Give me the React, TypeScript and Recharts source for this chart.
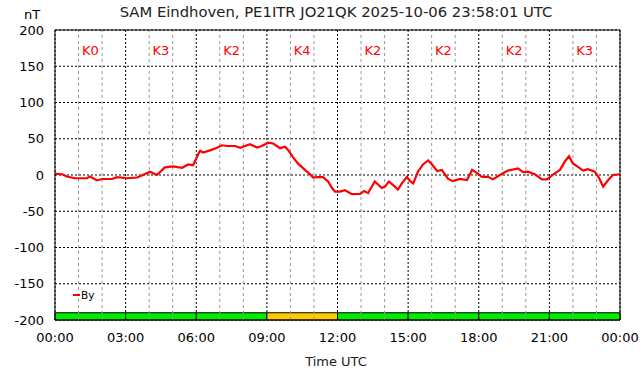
import {
  LineChart,
  Line,
  XAxis,
  YAxis,
  CartesianGrid,
  ReferenceLine,
  ReferenceArea,
  ReferenceDot,
} from 'recharts';

// sample times (UTC) and By values in nT
const times = [
  '00:00', '00:18', '00:30', '00:51', '01:22', '01:29', '01:47', '02:00', '02:25', '02:38',
  '03:04', '03:29', '03:44', '04:02', '04:20', '04:40', '05:01', '05:24', '05:39', '05:52',
  '06:02', '06:07', '06:10', '06:17', '06:35', '06:53', '07:05', '07:19', '07:39', '07:52',
  '08:17', '08:35', '08:47', '09:03', '09:16', '09:34', '09:46', '09:54', '10:06', '10:19',
  '10:37', '10:50', '10:58', '11:08', '11:23', '11:36', '11:46', '11:54', '12:06', '12:19',
  '12:37', '12:58', '13:08', '13:18', '13:35', '13:53', '14:01', '14:11', '14:22', '14:34',
  '14:44', '14:57', '15:05', '15:13', '15:25', '15:38', '15:51', '16:01', '16:14', '16:26',
  '16:42', '16:54', '17:12', '17:30', '17:43', '17:56', '18:08', '18:24', '18:36', '18:54',
  '19:14', '19:40', '19:53', '20:05', '20:23', '20:41', '20:54', '21:10', '21:27', '21:40',
  '21:50', '22:00', '22:12', '22:26', '22:38', '22:56', '23:07', '23:17', '23:30', '23:42',
  '24:00',
];
const byValues = [
  2, 1, -2, -4.5, -4.5, -2, -7.5, -5.5, -5.5, -3,
  -4.5, -3.5, 0, 4.5, 0, 10.5, 12, 10, 14.5, 13.5,
  25, 31, 33.5, 31, 34, 37.5, 41, 40, 40, 37.5,
  42.5, 38, 40, 44.5, 43.5, 37, 39, 34.5, 25, 16,
  7, 1, -3.5, -3, -3, -9, -18, -23, -23, -21,
  -26.5, -26, -22, -25, -9, -18, -16, -9, -14, -20,
  -11.5, -2.5, -8.5, -11.5, 4.5, 14.5, 20, 14.5, 5.5, 7,
  -5.5, -8.5, -5.5, -7, 7, 2.5, -2.5, -2.5, -6, 0,
  6, 9, 4, 4.5, 1, -6, -6, 1, 7, 19,
  26, 16, 11.5, 6, 8, 4.5, -4.5, -16, -7, 0,
  1,
];

// K index per 3-hour block
const kIndex = [0, 3, 2, 4, 2, 2, 2, 3];

const majorHours = [0, 3, 6, 9, 12, 15, 18, 21, 24];
const minorHours = [1, 2, 4, 5, 7, 8, 10, 11, 13, 14, 16, 17, 19, 20, 22, 23];
const yTicks = [-200, -150, -100, -50, 0, 50, 100, 150, 200];

const toMin = (t: string) => {
  const [h, m] = t.split(':').map(Number);
  return h * 60 + m;
};

const data = times.map((t, i) => ({ t: toMin(t), by: byValues[i] }));

const fmtTime = (v: number) => {
  const h = Math.floor(v / 60) % 24;
  const m = v % 60;
  return `${String(h).padStart(2, '0')}:${String(m).padStart(2, '0')}`;
};

const kColor = (k: number) => (k >= 4 ? '#ffcc00' : '#00ee00');

export default function App() {
  return (
    <div
      style={{
        position: 'absolute',
        left: 0,
        top: 0,
        width: 642,
        height: 376,
        background: '#fff',
        fontFamily: '"DejaVu Sans", sans-serif',
      }}
    >
      <div
        style={{
          position: 'absolute',
          top: 3,
          left: 0,
          width: 672,
          textAlign: 'center',
          fontSize: 14.8,
          color: '#222',
        }}
      >
        SAM Eindhoven, PE1ITR JO21QK 2025-10-06 23:58:01 UTC
      </div>
      <div style={{ position: 'absolute', top: 7, left: 24, fontSize: 13, color: '#000' }}>nT</div>
      <div style={{ position: 'absolute', top: 354, left: 0, width: 672, textAlign: 'center', fontSize: 13, color: '#222' }}>
        Time UTC
      </div>
      {/* legend */}
      <div
        style={{
          position: 'absolute',
          left: 73,
          top: 289,
          display: 'flex',
          alignItems: 'center',
          fontSize: 10.5,
          color: '#000',
          zIndex: 2,
        }}
      >
        <span style={{ display: 'inline-block', width: 7, height: 2, background: '#ff0000', marginRight: 1 }} />
        By
      </div>
      <LineChart width={642} height={376} data={data} margin={{ top: 30, right: 22, left: 0, bottom: 0 }}>
        <CartesianGrid stroke="#000" strokeDasharray="2 2" />
        {minorHours.map((h) => (
          <ReferenceLine key={`m${h}`} x={h * 60} stroke="#999" strokeDasharray="3 3" />
        ))}
        <XAxis
          type="number"
          dataKey="t"
          domain={[0, 1440]}
          ticks={majorHours.map((h) => h * 60)}
          tickFormatter={fmtTime}
          interval={0}
          height={56}
          tickLine={false}
          tickMargin={7}
          axisLine={{ stroke: '#000' }}
          tick={{ fontSize: 13, fill: '#000' }}
        />
        <YAxis
          domain={[-200, 200]}
          ticks={yTicks}
          interval={0}
          width={55}
          tickLine={false}
          tickMargin={5}
          axisLine={{ stroke: '#000' }}
          tick={{ fontSize: 13, fill: '#000' }}
        />
        <ReferenceLine y={200} stroke="#000" />
        <ReferenceLine x={1440} stroke="#000" />
        {kIndex.map((k, i) => (
          <ReferenceArea
            key={`a${i}`}
            x1={i * 180}
            x2={(i + 1) * 180}
            y1={-200}
            y2={-190}
            fill={kColor(k)}
            fillOpacity={1}
            stroke="#000"
            strokeWidth={1}
          />
        ))}
        {kIndex.map((k, i) => (
          <ReferenceDot
            key={`k${i}`}
            x={i * 180 + 90}
            y={172}
            r={0}
            stroke="none"
            label={{ value: `K${k}`, position: 'center', fill: '#ff0000', fontSize: 13 }}
          />
        ))}
        <Line
          type="linear"
          dataKey="by"
          name="By"
          stroke="#ff0000"
          strokeWidth={2.2}
          dot={false}
          isAnimationActive={false}
        />
      </LineChart>
    </div>
  );
}
